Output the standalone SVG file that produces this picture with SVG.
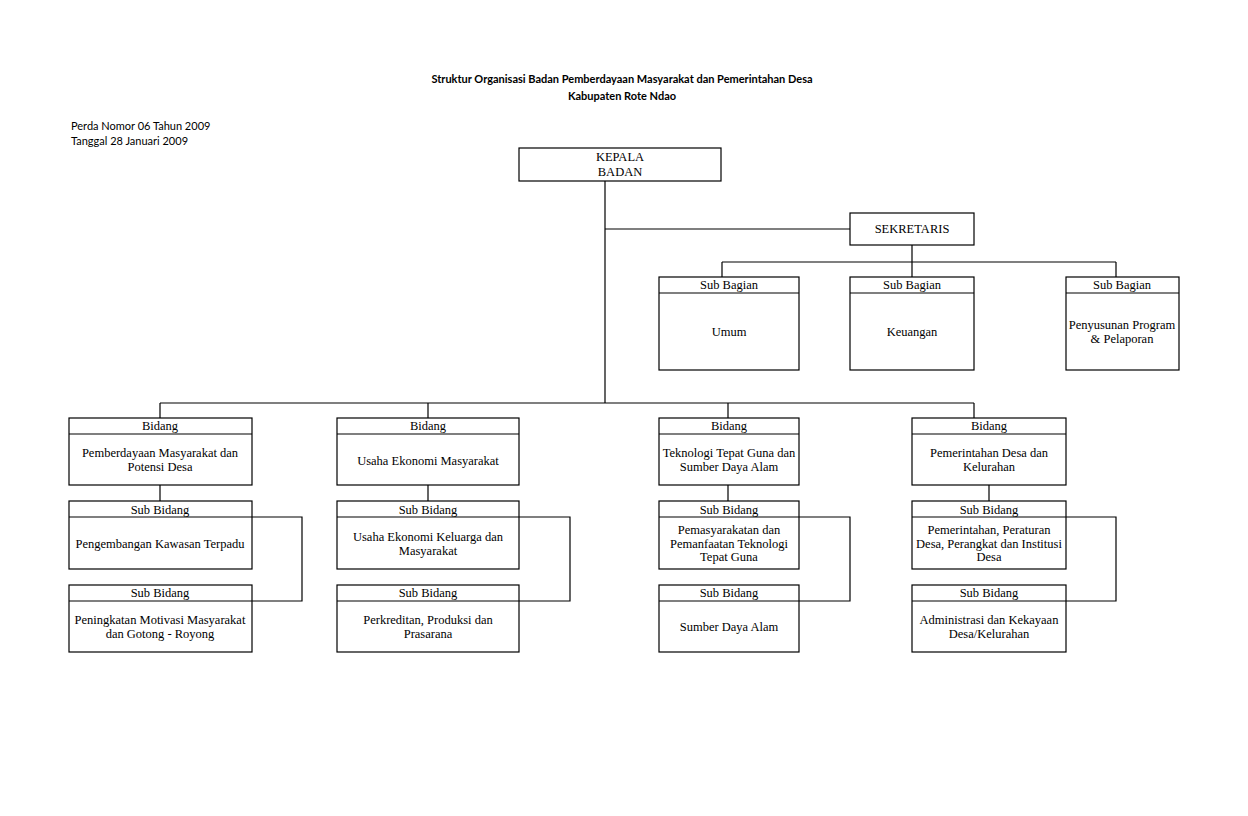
<svg xmlns="http://www.w3.org/2000/svg" width="1248" height="816" viewBox="0 0 1248 816">
<style>
.b{fill:#fff;stroke:#000;stroke-width:1.2}
.l{fill:none;stroke:#000;stroke-width:1.2}
.t{font-family:"Liberation Serif","Times New Roman",serif;font-size:12.5px;fill:#000;text-anchor:middle}
.h{font-family:Lato,"Liberation Sans",sans-serif;font-size:11px;font-weight:bold;fill:#000;text-anchor:middle}
.p{font-family:Lato,"Liberation Sans",sans-serif;font-size:11px;fill:#000}
</style>
<rect width="1248" height="816" fill="#fff"/>
<text class="h" x="622" y="83">Struktur Organisasi Badan Pemberdayaan Masyarakat dan Pemerintahan Desa</text>
<text class="h" x="622" y="100">Kabupaten Rote Ndao</text>
<text class="p" x="71" y="130">Perda Nomor 06 Tahun 2009</text>
<text class="p" x="71" y="145">Tanggal 28 Januari 2009</text>
<g id="connectors">
<path class="l" d="M605 181V403M605 229H850M912 245V262M722 262H1116M722 262V277M912 262V277M1116 262V277"/>
<path class="l" d="M160 403H974M160 403V418M428 403V418M728 403V418M974 403V418"/>
<path class="l" d="M160 485V501M428 485V501M728 485V501M989 485V501"/>
<path class="l" d="M252 517H302V601H252M519 517H570V601H519M799 517H850V601H799M1066 517H1116V601H1066"/>
</g>
<g id="kepala"><rect class="b" x="519" y="148" width="202" height="33"/><text class="t" x="620" y="161">KEPALA</text><text class="t" x="620" y="176">BADAN</text></g>
<g id="sekretaris"><rect class="b" x="850" y="213" width="124" height="32"/><text class="t" x="912" y="233">SEKRETARIS</text></g>
<g id="sb-umum"><rect class="b" x="659" y="277" width="140" height="93"/><path class="l" d="M659 293H799"/><text class="t" x="729" y="289">Sub Bagian</text><text class="t" x="729" y="336">Umum</text></g>
<g id="sb-keuangan"><rect class="b" x="850" y="277" width="124" height="93"/><path class="l" d="M850 293H974"/><text class="t" x="912" y="289">Sub Bagian</text><text class="t" x="912" y="336">Keuangan</text></g>
<g id="sb-program"><rect class="b" x="1066" y="277" width="113" height="93"/><path class="l" d="M1066 293H1179"/><text class="t" x="1122" y="289">Sub Bagian</text><text class="t" x="1122" y="329">Penyusunan Program</text><text class="t" x="1122" y="343">&amp; Pelaporan</text></g>

<g id="bidang1"><rect class="b" x="69" y="418" width="183" height="67"/><path class="l" d="M69 434H252"/><text class="t" x="160" y="430">Bidang</text><text class="t" x="160" y="457">Pemberdayaan Masyarakat dan</text><text class="t" x="160" y="471">Potensi Desa</text></g>
<g id="sub1a"><rect class="b" x="69" y="501" width="183" height="68"/><path class="l" d="M69 517H252"/><text class="t" x="160" y="514">Sub Bidang</text><text class="t" x="160" y="548">Pengembangan Kawasan Terpadu</text></g>
<g id="sub1b"><rect class="b" x="69" y="585" width="183" height="67"/><path class="l" d="M69 601H252"/><text class="t" x="160" y="597">Sub Bidang</text><text class="t" x="160" y="624">Peningkatan Motivasi Masyarakat</text><text class="t" x="160" y="638">dan Gotong - Royong</text></g>

<g id="bidang2"><rect class="b" x="337" y="418" width="182" height="67"/><path class="l" d="M337 434H519"/><text class="t" x="428" y="430">Bidang</text><text class="t" x="428" y="465">Usaha Ekonomi Masyarakat</text></g>
<g id="sub2a"><rect class="b" x="337" y="501" width="182" height="68"/><path class="l" d="M337 517H519"/><text class="t" x="428" y="514">Sub Bidang</text><text class="t" x="428" y="541">Usaha Ekonomi Keluarga dan</text><text class="t" x="428" y="555">Masyarakat</text></g>
<g id="sub2b"><rect class="b" x="337" y="585" width="182" height="67"/><path class="l" d="M337 601H519"/><text class="t" x="428" y="597">Sub Bidang</text><text class="t" x="428" y="624">Perkreditan, Produksi dan</text><text class="t" x="428" y="638">Prasarana</text></g>

<g id="bidang3"><rect class="b" x="659" y="418" width="140" height="67"/><path class="l" d="M659 434H799"/><text class="t" x="729" y="430">Bidang</text><text class="t" x="729" y="457">Teknologi Tepat Guna dan</text><text class="t" x="729" y="471">Sumber Daya Alam</text></g>
<g id="sub3a"><rect class="b" x="659" y="501" width="140" height="68"/><path class="l" d="M659 517H799"/><text class="t" x="729" y="514">Sub Bidang</text><text class="t" x="729" y="534">Pemasyarakatan dan</text><text class="t" x="729" y="548">Pemanfaatan Teknologi</text><text class="t" x="729" y="561">Tepat Guna</text></g>
<g id="sub3b"><rect class="b" x="659" y="585" width="140" height="67"/><path class="l" d="M659 601H799"/><text class="t" x="729" y="597">Sub Bidang</text><text class="t" x="729" y="631">Sumber Daya Alam</text></g>

<g id="bidang4"><rect class="b" x="912" y="418" width="154" height="67"/><path class="l" d="M912 434H1066"/><text class="t" x="989" y="430">Bidang</text><text class="t" x="989" y="457">Pemerintahan Desa dan</text><text class="t" x="989" y="471">Kelurahan</text></g>
<g id="sub4a"><rect class="b" x="912" y="501" width="154" height="68"/><path class="l" d="M912 517H1066"/><text class="t" x="989" y="514">Sub Bidang</text><text class="t" x="989" y="534">Pemerintahan, Peraturan</text><text class="t" x="989" y="548">Desa, Perangkat dan Institusi</text><text class="t" x="989" y="561">Desa</text></g>
<g id="sub4b"><rect class="b" x="912" y="585" width="154" height="67"/><path class="l" d="M912 601H1066"/><text class="t" x="989" y="597">Sub Bidang</text><text class="t" x="989" y="624">Administrasi dan Kekayaan</text><text class="t" x="989" y="638">Desa/Kelurahan</text></g>
</svg>
